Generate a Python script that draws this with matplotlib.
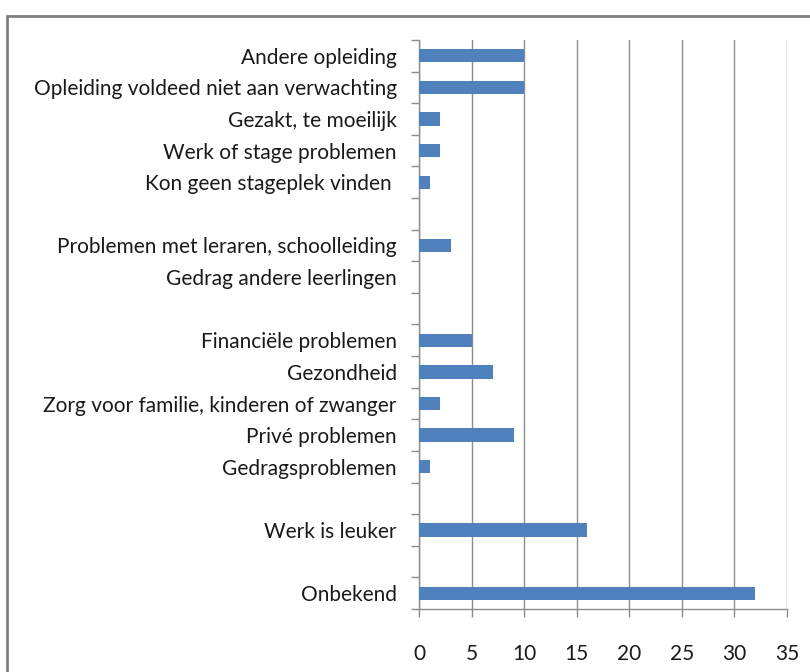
import matplotlib.pyplot as plt
from matplotlib.patches import Rectangle

# categories from top to bottom, "" = empty spacer row
labels = [
    "Andere opleiding",
    "Opleiding voldeed niet aan verwachting",
    "Gezakt, te moeilijk",
    "Werk of stage problemen",
    "Kon geen stageplek vinden ",
    "",
    "Problemen met leraren, schoolleiding",
    "Gedrag andere leerlingen",
    "",
    "Financiële problemen",
    "Gezondheid",
    "Zorg voor familie, kinderen of zwanger",
    "Privé problemen",
    "Gedragsproblemen",
    "",
    "Werk is leuker",
    "",
    "Onbekend",
]
values = [10, 10, 2, 2, 1, 0, 3, 0, 0, 5, 7, 2, 9, 1, 0, 16, 0, 32]
xticks = [0, 5, 10, 15, 20, 25, 30, 35]

BAR = "#4F81BD"
GRID = "#8C8C8C"

plt.rcParams["font.family"] = ["Lato", "DejaVu Sans"]

fig = plt.figure(figsize=(8.1, 6.72), dpi=100)
ax = fig.add_axes([0.5173, 0.0938, 0.4543, 0.8467])

n = len(labels)
ypos = list(range(n))
ax.barh(ypos, values, height=0.42, color=BAR, zorder=3)

ax.set_ylim(n - 0.5, -0.5)
ax.set_xlim(0, 35)
ax.set_xticks(xticks)
ax.set_yticks(ypos)
ax.set_yticklabels(labels, fontsize=15, color="#1a1a1a")
ax.set_yticks([i - 0.5 for i in range(n + 1)], minor=True)
ax.tick_params(axis="y", which="major", length=0, pad=16)
ax.tick_params(axis="y", which="minor", length=6, color=GRID, width=1)
ax.tick_params(axis="x", length=6, color=GRID, width=1, pad=19,
               labelsize=15, labelcolor="#1a1a1a")

ax.grid(axis="x", color=GRID, linewidth=1, zorder=0)
for side in ["top", "right"]:
    ax.spines[side].set_visible(False)
for side in ["left", "bottom"]:
    ax.spines[side].set_color(GRID)
    ax.spines[side].set_linewidth(1)

# outer chart frame (only left and top edges visible)
fig.patches.append(Rectangle((7 / 810, -0.1), 1.2, 1.1 - 16 / 672,
                             transform=fig.transFigure, fill=False,
                             edgecolor="#808080", linewidth=2))

fig.savefig("out.png", dpi=100)
